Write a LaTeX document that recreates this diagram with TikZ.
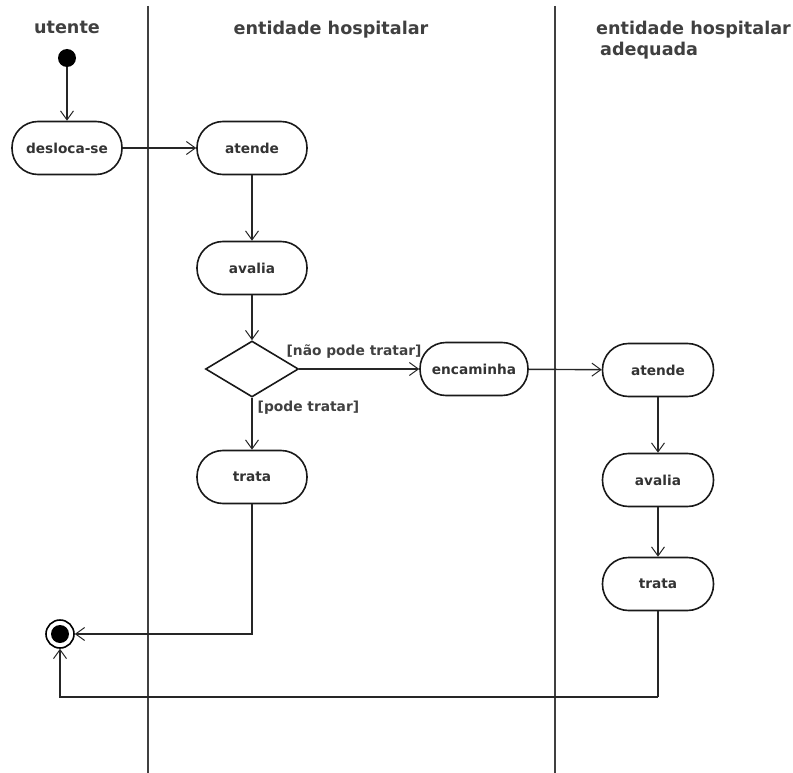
\documentclass[tikz,border=0pt]{standalone}
\usepackage{fontspec}
\setmainfont{DejaVu Sans}
\usetikzlibrary{arrows.meta,shapes.geometric}
\begin{document}
\begin{tikzpicture}[x=1pt,y=-1pt,
  act/.style={draw=black!90,line width=1.6pt,rectangle,rounded corners=26pt,minimum width=110pt,minimum height=53pt,inner sep=0pt,font=\fontsize{13.7}{16}\selectfont\bfseries,text=black!80},
  decis/.style={draw=black!90,line width=1.6pt,diamond,aspect=1.66,minimum width=93pt,minimum height=56pt,inner sep=0pt},
  flow/.style={draw=black!85,line width=1.4pt,-{Straight Barb[length=9pt,width=13pt,line width=1pt]}},
  plain/.style={draw=black!85,line width=1.4pt},
  lane/.style={draw=black!75,line width=1.8pt},
  title/.style={font=\fontsize{17.6}{20}\selectfont\bfseries,text=black!75,inner sep=0pt},
  guard/.style={font=\fontsize{13.8}{16}\selectfont\bfseries,text=black!75,inner sep=1pt}]
\useasboundingbox (0,0) rectangle (793,773);
% lanes
\coordinate (l1t) at (148,6); \coordinate (l1b) at (148,773);
\coordinate (l2t) at (555,6); \coordinate (l2b) at (555,773);
\draw[lane] (l1t) -- (l1b);
\draw[lane] (l2t) -- (l2b);
% titles
\node[title] (t1) at (67,27) {utente};
\node[title] (t2) at (331,30) {entidade hospitalar};
\node[title,anchor=west] (t3) at (596,30) {entidade hospitalar};
\node[title,anchor=west] (t4) at (600,51) {adequada};
% nodes
\node[circle,fill=black,minimum size=18pt,inner sep=0pt] (start) at (67,58) {};
\node[act] (desloca) at (67,148) {desloca-se};
\node[act] (atende) at (252,148) {atende};
\node[act] (avalia) at (252,268) {avalia};
\node[decis] (dec) at (252,369) {};
\node[act,minimum width=108pt] (encam) at (474,369) {encaminha};
\node[act] (trata) at (252,477) {trata};
\node[act,minimum width=111pt] (ratende) at (658,370) {atende};
\node[act,minimum width=111pt] (ravalia) at (658,480) {avalia};
\node[act,minimum width=111pt] (rtrata) at (658,584) {trata};
\node[circle,draw=black,line width=1.6pt,minimum size=28pt,inner sep=0pt] (end) at (60,634) {};
\node[circle,fill=black,minimum size=18pt,inner sep=0pt] (endin) at (60,634) {};
\coordinate (corner) at (658,697);
% edges
\draw[flow] (start) -- (desloca);
\draw[flow] (desloca) -- (atende);
\draw[flow] (atende) -- (avalia);
\draw[flow] (avalia) -- (dec.north);
\draw[flow] (dec.east) -- node[guard,pos=1,anchor=south east,xshift=4pt,yshift=9pt] (g1) {[não pode tratar]} (encam);
\draw[flow] (dec.south) -- node[guard,pos=0,anchor=north west,xshift=4pt,yshift=-2pt] (g2) {[pode tratar]} (trata);
\draw[flow] (encam) -- (ratende);
\draw[flow] (ratende) -- (ravalia);
\draw[flow] (ravalia) -- (rtrata);
\draw[flow] (trata.south) |- (end.east);
\draw[plain] (rtrata.south) -- (corner);
\draw[flow] (corner) -| (end.south);
\end{tikzpicture}
\end{document}
